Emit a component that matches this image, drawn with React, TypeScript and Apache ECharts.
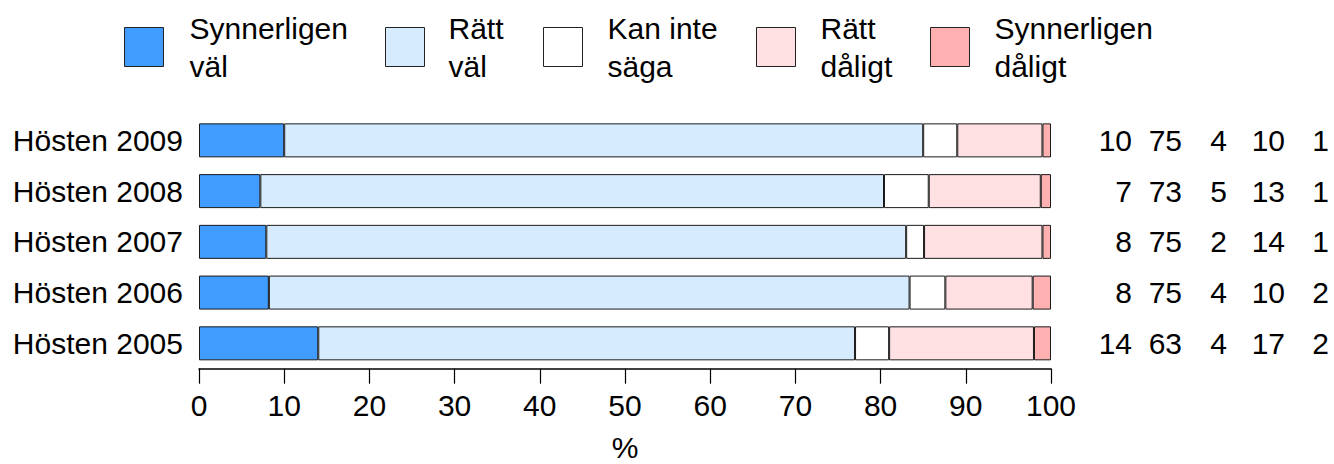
import React, { useEffect, useRef } from "react";
import * as echarts from "echarts";

const categories = ["Hösten 2009", "Hösten 2008", "Hösten 2007", "Hösten 2006", "Hösten 2005"];
const seriesNames = ["Synnerligen väl", "Rätt väl", "Kan inte säga", "Rätt dåligt", "Synnerligen dåligt"];
const legendLabels = ["Synnerligen\nväl", "Rätt\nväl", "Kan inte\nsäga", "Rätt\ndåligt", "Synnerligen\ndåligt"];
const colors = ["#409cff", "#d7ebff", "#ffffff", "#ffe1e3", "#ffb1b1"];

// bar values (%) per series, ordered as categories
const synnerligenVal = [10, 7.2, 7.9, 8.2, 14];
const rattVal = [75, 73.2, 75.1, 75.2, 63];
const kanInteSaga = [4, 5.25, 2.1, 4.2, 4];
const rattDaligt = [10, 13.15, 13.9, 10.25, 17];
const synnerligenDaligt = [1, 1.2, 1.0, 2.15, 2];
const seriesValues = [synnerligenVal, rattVal, kanInteSaga, rattDaligt, synnerligenDaligt];

// rounded figures printed at the right
const printed = [
  [10, 75, 4, 10, 1],
  [7, 73, 5, 13, 1],
  [8, 75, 2, 14, 1],
  [8, 75, 4, 10, 2],
  [14, 63, 4, 17, 2],
];

const xTicks = { min: 0, max: 100, interval: 10 };

const FONT = "'Liberation Sans', Arial, Helvetica, sans-serif";

const legendBoxLeft = [124, 385, 543, 756, 930];
const legendTextPad = [21, 19, 20, 20, 20];

export default function App() {
  const ref = useRef<HTMLDivElement>(null);
  useEffect(() => {
    if (!ref.current) return;
    const chart = echarts.init(ref.current, undefined, { renderer: "svg" });
    const colW = ["a", "b", "c", "d", "e"];
    const rich: any = {};
    const widths = [81, 50, 45, 58, 44];
    colW.forEach((k, i) => {
      rich[k] = { width: widths[i], align: "right", fontSize: 30, fontFamily: FONT, color: "#000" };
    });
    const option: any = {
      animation: false,
      textStyle: { fontFamily: FONT },
      legend: seriesNames.map((n, i) => ({
        show: true,
        data: [n],
        left: legendBoxLeft[i],
        top: 9,
        padding: 0,
        orient: "horizontal",
        icon: "rect",
        itemWidth: 39,
        itemHeight: 39,
        selectedMode: false,
        itemStyle: { borderColor: "#222", borderWidth: 1 },
        formatter: () => legendLabels[i],
        textStyle: {
          fontSize: 30,
          lineHeight: 38,
          fontFamily: FONT,
          color: "#000",
          padding: [0, 0, 0, legendTextPad[i]],
        },
      })),
      grid: {
        left: 199,
        right: 283,
        top: 115,
        bottom: 95.3,
        containLabel: false,
        outerBoundsMode: "none",
      },
      xAxis: {
        type: "value",
        min: xTicks.min,
        max: xTicks.max,
        interval: xTicks.interval,
        name: "%",
        nameLocation: "middle",
        nameGap: 68,
        nameTextStyle: { fontSize: 30, lineHeight: 22, color: "#000", fontFamily: FONT },
        axisLine: { show: true, lineStyle: { color: "#000", width: 1.5 } },
        axisTick: { show: true, length: 15, lineStyle: { color: "#000", width: 1.2 } },
        axisLabel: { fontSize: 30, color: "#000", margin: 22, fontFamily: FONT },
        splitLine: { show: false },
      },
      yAxis: [
        {
          type: "category",
          data: categories,
          inverse: true,
          axisLine: { show: false },
          axisTick: { show: false },
          axisLabel: { fontSize: 30, color: "#000", margin: 16, fontFamily: FONT },
        },
        {
          type: "category",
          data: categories,
          inverse: true,
          position: "right",
          axisLine: { show: false },
          axisTick: { show: false },
          axisLabel: {
            margin: 0,
            align: "left",
            formatter: (_v: string, idx: number) =>
              printed[idx].map((p, j) => `{${colW[j]}|${p}}`).join(""),
            rich,
          },
        },
      ],
      series: seriesNames.map((n, i) => ({
        name: n,
        type: "bar",
        stack: "total",
        barWidth: 34,
        data: seriesValues[i],
        itemStyle: { color: colors[i], borderColor: "#1a1a1a", borderWidth: 1 },
        emphasis: { disabled: true },
      })),
    };
    chart.setOption(option);
    return () => chart.dispose();
  }, []);
  return (
    <div
      ref={ref}
      style={{ position: "absolute", left: 0, top: 0, width: 1334, height: 464, background: "#fff" }}
    />
  );
}
